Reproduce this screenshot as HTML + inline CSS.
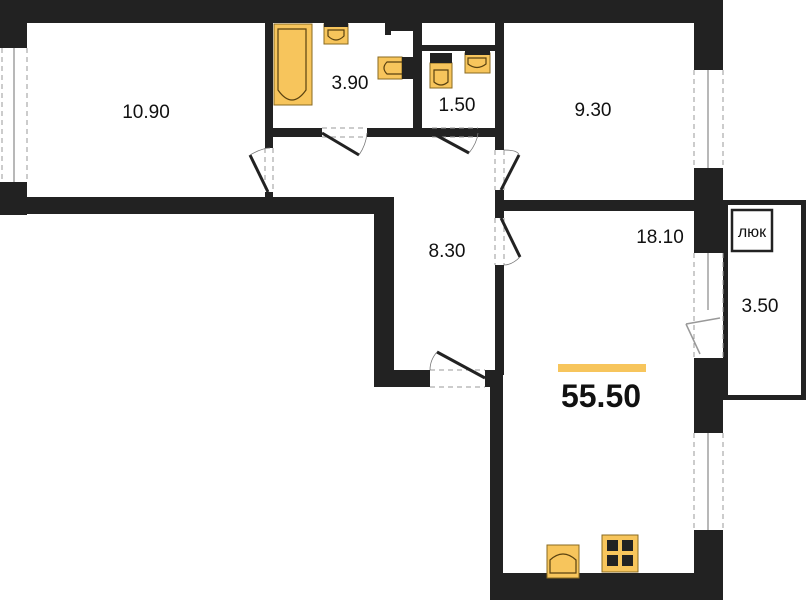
<!DOCTYPE html>
<html><head><meta charset="utf-8"><style>
html,body{margin:0;padding:0;background:#fff;width:808px;height:600px;overflow:hidden}
svg{display:block}
text{font-family:"Liberation Sans","DejaVu Sans",sans-serif;fill:#111}
</style></head><body>
<svg width="808" height="600" viewBox="0 0 808 600" xmlns="http://www.w3.org/2000/svg">
<g fill="#222">
<rect x="0" y="0" width="723" height="23"/>
<rect x="0" y="23" width="27" height="25"/>
<rect x="0" y="182" width="27" height="33"/>
<rect x="0" y="197" width="394" height="17"/>
<rect x="374" y="197" width="20" height="190"/>
<rect x="374" y="370" width="56" height="17"/>
<rect x="485" y="370" width="18" height="17"/>
<rect x="495" y="23" width="9" height="127"/>
<rect x="495" y="190" width="9" height="28"/>
<rect x="495" y="265" width="9" height="110"/>
<rect x="490" y="372" width="13" height="228"/>
<rect x="504" y="200" width="190" height="11"/>
<rect x="490" y="573" width="233" height="27"/>
<rect x="694" y="0" width="29" height="70"/>
<rect x="694" y="168" width="29" height="85"/>
<rect x="694" y="358" width="29" height="75"/>
<rect x="694" y="530" width="29" height="43"/>
<rect x="265" y="23" width="8" height="125"/>
<rect x="265" y="192" width="8" height="6"/>
<rect x="265" y="128" width="57" height="9"/>
<rect x="367" y="128" width="116" height="9"/>
<rect x="478" y="128" width="26" height="9"/>
<rect x="413" y="23" width="9" height="110"/>
<rect x="422" y="45" width="73" height="6"/>
<rect x="385" y="23" width="28" height="8"/>
<rect x="385" y="23" width="6" height="12"/>
</g>
<rect x="725.5" y="202.5" width="78" height="195" fill="none" stroke="#222" stroke-width="5"/>
<rect x="732" y="210" width="40" height="41" fill="#fff" stroke="#222" stroke-width="2.5"/>
<text x="752" y="237" font-size="16" text-anchor="middle">люк</text>
<g stroke="#999" stroke-width="1" stroke-dasharray="5,4" fill="none">
<line x1="2" y1="48" x2="2" y2="182"/><line x1="27" y1="48" x2="27" y2="182"/>
<line x1="694" y1="70" x2="694" y2="168"/><line x1="723" y1="70" x2="723" y2="168"/>
<line x1="694" y1="253" x2="694" y2="358"/><line x1="723" y1="253" x2="723" y2="358"/>
<line x1="694" y1="433" x2="694" y2="530"/><line x1="723" y1="433" x2="723" y2="530"/>
<line x1="273" y1="148" x2="273" y2="192"/><line x1="265" y1="148" x2="265" y2="192"/>
<line x1="322" y1="128" x2="367" y2="128"/><line x1="322" y1="137" x2="367" y2="137"/>
<line x1="432" y1="128" x2="478" y2="128"/><line x1="432" y1="137" x2="478" y2="137"/>
<line x1="495" y1="150" x2="495" y2="190"/><line x1="504" y1="150" x2="504" y2="190"/>
<line x1="495" y1="218" x2="495" y2="265"/><line x1="504" y1="218" x2="504" y2="265"/>
<line x1="430" y1="370" x2="485" y2="370"/><line x1="430" y1="387" x2="485" y2="387"/>
</g>
<g stroke="#888" stroke-width="1.2">
<line x1="14" y1="48" x2="14" y2="182"/>
<line x1="708" y1="70" x2="708" y2="168"/>
<line x1="708" y1="253" x2="708" y2="310"/>
<line x1="708" y1="433" x2="708" y2="530"/>
</g>
<g stroke="#222" stroke-width="3" fill="none">
<line x1="268" y1="192" x2="250" y2="155"/>
<line x1="322" y1="133" x2="359" y2="155"/>
<line x1="432" y1="133" x2="469" y2="153"/>
<line x1="501" y1="190" x2="519" y2="155"/>
<line x1="501" y1="218" x2="520" y2="257"/>
<line x1="485" y1="378" x2="437" y2="352"/>
</g>
<g stroke="#999" stroke-width="1.5" fill="none">
<line x1="700" y1="354" x2="686" y2="324"/>
<line x1="686" y1="324" x2="720" y2="318"/>
</g>
<g stroke="#777" stroke-width="0.8" fill="none">
<path d="M250 155 Q262 148 270 148"/><path d="M359 155 Q366 145 367 133"/>
<path d="M469 153 Q477 143 478 133"/><path d="M519 155 Q518 150 504 150"/>
<path d="M520 257 Q512 265 504 265"/><path d="M437 352 Q430 360 430 370"/>
</g>
<g fill="#f7c55c" stroke="#8a6a20" stroke-width="1">
<rect x="274" y="24" width="38" height="81"/>
<rect x="324" y="24" width="24" height="20"/>
<rect x="378" y="57" width="24" height="22"/>
<rect x="430" y="63" width="22" height="25"/>
<rect x="465" y="53" width="25" height="20"/>
<rect x="547" y="545" width="32" height="33"/>
<rect x="602" y="535" width="36" height="37"/>
</g>
<g fill="none" stroke="#5a4210" stroke-width="1.2">
<path d="M278 29 H306 V90 Q292 110 278 90 Z"/>
<path d="M328 30 H344 V36 Q336 44 328 36 Z"/>
<path d="M402 62 H387 Q381 68 387 74 H402"/>
<path d="M434 70 H448 V82 Q441 88 434 82 Z"/>
<path d="M468 58 H486 V64 Q477 71 468 64 Z"/>
<path d="M550 573 V560 Q563 548 576 560 V573 Z"/>
</g>
<rect x="402" y="57" width="11" height="22" fill="#222"/>
<rect x="430" y="53" width="22" height="10" fill="#222"/>
<rect x="465" y="51" width="25" height="4" fill="#222"/>
<rect x="324" y="23" width="24" height="4" fill="#222"/>
<g fill="#222"><rect x="607" y="540" width="11" height="11"/><rect x="622" y="540" width="11" height="11"/><rect x="607" y="555" width="11" height="11"/><rect x="622" y="555" width="11" height="11"/></g>
<g font-size="19" text-anchor="middle">
<text x="146" y="118">10.90</text>
<text x="350" y="89">3.90</text>
<text x="457" y="111">1.50</text>
<text x="593" y="116">9.30</text>
<text x="447" y="257">8.30</text>
<text x="660" y="243">18.10</text>
<text x="760" y="312">3.50</text>
</g>
<rect x="558" y="364" width="88" height="8" fill="#f7c55c"/>
<text x="601" y="407" font-size="32" font-weight="bold" text-anchor="middle">55.50</text>
</svg>
</body></html>
